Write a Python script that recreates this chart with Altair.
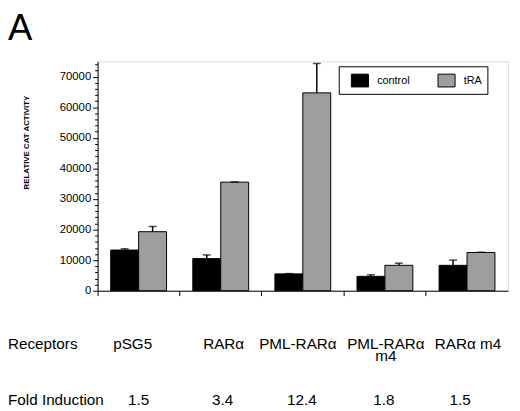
import altair as alt
import pandas as pd

receptors = ["pSG5", "RARα", "PML-RARα", "PML-RARα m4", "RARα m4"]
receptor_labels = ["pSG5", "RARα", "PML-RARα", "PML-RARα\nm4", "RARα m4"]
fold_induction = ["1.5", "3.4", "12.4", "1.8", "1.5"]
series = ["control", "tRA"]
control_vals = [13300, 10500, 5500, 4700, 8300]
control_upper = [13700, 11700, 5600, 5200, 10000]
tra_vals = [19300, 35500, 64700, 8300, 12500]
tra_upper = [21000, 35600, 74300, 9000, 12600]
row_titles = ["Receptors", "Fold Induction"]
panel_letter = ["A"]
y_ticks = list(range(0, 75001, 2000))

# styling: horizontal nudges of the table texts (pixels)
label_dx = [-6, 3, -5, 1, 1]
fold_dx = [0, 2, -1, -1, -7]

rows = []
for i, r in enumerate(receptors):
    rows.append({"receptor": r, "series": "control", "value": control_vals[i], "upper": control_upper[i]})
    rows.append({"receptor": r, "series": "tRA", "value": tra_vals[i], "upper": tra_upper[i]})
df = pd.DataFrame(rows)
tdf = pd.DataFrame({"receptor": receptors, "label": receptor_labels, "fold": fold_induction})

FONT = "Liberation Sans"

x_enc = alt.X("receptor:N", sort=receptors,
              scale=alt.Scale(paddingInner=0, paddingOuter=0),
              axis=alt.Axis(labels=False, title=None, tickSize=5, bandPosition=0,
                            domainColor="black", tickColor="black", grid=False))
xoff = alt.XOffset("series:N", sort=series, scale=alt.Scale(paddingInner=0, paddingOuter=0.47))

y_axis = alt.Axis(values=y_ticks, format="d",
                  labelExpr="datum.value % 10000 === 0 ? datum.label : ''",
                  tickSize={"condition": {"test": "datum.value % 10000 === 0", "value": 5}, "value": 3},
                  grid=False, domainColor="black", tickColor="black",
                  labelFont=FONT, labelFontSize=11.5, labelColor="black", labelPadding=2,
                  title="RELATIVE  CAT  ACTIVITY", titleFont=FONT,
                  titleFontWeight="bold", titleFontSize=8, titleColor="black",
                  titleAngle=270, titleX=-72, titleY=82, titleAlign="center", titleBaseline="middle")
y_scale = alt.Scale(domain=[0, 75000], nice=False)

base = alt.Chart(df)

bars = base.mark_bar(stroke="black", strokeWidth=1).encode(
    x=x_enc, xOffset=xoff,
    y=alt.Y("value:Q", scale=y_scale, axis=y_axis),
    color=alt.Color("series:N", sort=series,
                    scale=alt.Scale(domain=series, range=["#000000", "#9e9e9e"]),
                    legend=alt.Legend(orient="none", legendX=245, legendY=5, direction="horizontal",
                                      title=None, strokeColor="black", fillColor="white",
                                      padding=5, symbolOffset=7,
                                      symbolType="M-1,-0.75H1V0.75H-1Z", symbolSize=300,
                                      symbolStrokeColor="black", symbolStrokeWidth=1,
                                      labelFont=FONT, labelFontSize=11, labelColor="black",
                                      labelOffset=8, columnPadding=20)),
)

err = base.mark_rule(color="black", strokeWidth=1.5).encode(
    x=x_enc, xOffset=xoff,
    y=alt.Y("value:Q", scale=y_scale, axis=y_axis), y2="upper:Q",
)
caps = base.mark_tick(color="black", thickness=1.5, size=8).encode(
    x=x_enc, xOffset=xoff,
    y=alt.Y("upper:Q", scale=y_scale, axis=y_axis),
)

layers = [bars, err, caps]
for i, r in enumerate(receptors):
    sub = tdf[tdf.receptor == r]
    layers.append(alt.Chart(sub).mark_text(font=FONT, fontSize=15.5, align="center", baseline="alphabetic",
                                           lineBreak="\n", lineHeight=12, dx=label_dx[i],
                                           color="black").encode(
        x=x_enc, y=alt.value(292), text="label:N"))
    layers.append(alt.Chart(sub).mark_text(font=FONT, fontSize=15.5, align="center", baseline="alphabetic",
                                           dx=fold_dx[i], color="black").encode(
        x=x_enc, y=alt.value(349), text="fold:N"))

rt = pd.DataFrame({"t": row_titles, "k": [0, 1]})
layers.append(alt.Chart(rt[rt.k == 0]).mark_text(font=FONT, fontSize=15.5, align="left", baseline="alphabetic",
                                                 color="black").encode(
    x=alt.value(-91), y=alt.value(292), text="t:N"))
layers.append(alt.Chart(rt[rt.k == 1]).mark_text(font=FONT, fontSize=15.5, align="left", baseline="alphabetic",
                                                 color="black").encode(
    x=alt.value(-91), y=alt.value(349), text="t:N"))
layers.append(alt.Chart(pd.DataFrame({"t": panel_letter})).mark_text(
    font=FONT, fontSize=37, align="left", baseline="alphabetic", color="black").encode(
    x=alt.value(-91), y=alt.value(-22), text="t:N"))

chart = alt.layer(*layers).properties(
    width=417, height=233, autosize="none",
    padding={"left": 91, "top": 51, "right": 4, "bottom": 119},
).configure_view(stroke="black", strokeWidth=1).configure(background="white")

chart.save("out.html", embed_options={"renderer": "svg", "actions": False})
